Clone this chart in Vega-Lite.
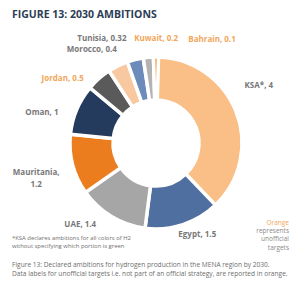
{
  "$schema": "https://vega.github.io/schema/vega-lite/v6.json",
  "background": "white",
  "padding": {"left": 12, "top": 9, "right": 0, "bottom": 0},
  "config": {
    "font": "Open Sans",
    "view": {"stroke": null},
    "concat": {"spacing": 0}
  },
  "title": {
    "text": [
      "Figure 13: Declared ambitions for hydrogen production in the MENA region by 2030.",
      "Data labels for unofficial targets i.e. not part of an official strategy, are reported in orange."
    ],
    "orient": "bottom",
    "anchor": "start",
    "fontSize": 6.6,
    "fontWeight": "normal",
    "color": "#6e6e6e",
    "lineHeight": 8.5,
    "offset": 7
  },
  "vconcat": [
    {
      "title": {
        "text": [
          "*KSA declares ambitions for all colors of H2",
          "without specifying which portion is green"
        ],
        "orient": "bottom",
        "anchor": "start",
        "fontSize": 5.9,
        "fontWeight": "normal",
        "color": "#6e6e6e",
        "lineHeight": 7.5,
        "offset": -20
      },
      "vconcat": [
        {
          "title": {
            "text": "FIGURE 13: 2030 AMBITIONS",
            "anchor": "start",
            "orient": "top",
            "fontSize": 10.5,
            "fontWeight": "bold",
            "color": "#2c3d55",
            "offset": 11
          },
          "vconcat": [
            {
              "width": 288,
              "height": 224,
              "title": {
                "text": "Orange",
                "subtitle": ["represents", "unofficial", "targets"],
                "orient": "bottom",
                "anchor": "end",
                "align": "right",
                "dx": -11,
                "offset": -35,
                "fontSize": 6.5,
                "fontWeight": "normal",
                "color": "#f2a65a",
                "subtitleFontSize": 6.5,
                "subtitleColor": "#8a8a8a",
                "subtitleLineHeight": 8.5,
                "subtitlePadding": 1
              },
              "data": {
                "values": [
                  {"country": "KSA", "label": "KSA*, 4", "value": 4},
                  {"country": "Egypt", "label": "Egypt, 1.5", "value": 1.5},
                  {"country": "UAE", "label": "UAE, 1.4", "value": 1.4},
                  {"country": "Mauritania", "label": "Mauritania,\n1.2", "value": 1.2},
                  {"country": "Oman", "label": "Oman, 1", "value": 1},
                  {"country": "Jordan", "label": "Jordan, 0.5", "value": 0.5},
                  {"country": "Morocco", "label": "Morocco, 0.4", "value": 0.4},
                  {"country": "Tunisia", "label": "Tunisia, 0.32", "value": 0.32},
                  {"country": "Kuwait", "label": "Kuwait, 0.2", "value": 0.2},
                  {"country": "Bahrain", "label": "Bahrain, 0.1", "value": 0.1}
                ]
              },
              "transform": [
                {"window": [{"op": "row_number", "as": "idx"}]},
                {"stack": "value", "groupby": [], "sort": [{"field": "idx", "order": "ascending"}], "as": ["v0", "v1"]},
                {"calculate": "(datum.v0 + datum.v1) / 2", "as": "mid"}
              ],
              "layer": [
                {
                  "mark": {"type": "arc", "innerRadius": 43, "outerRadius": 86, "stroke": "white", "strokeWidth": 3.5},
                  "encoding": {
                    "theta": {"field": "v0", "type": "quantitative"},
                    "theta2": {"field": "v1"},
                    "color": {
                      "field": "country",
                      "type": "nominal",
                      "legend": null,
                      "scale": {
                        "domain": ["KSA", "Egypt", "UAE", "Mauritania", "Oman", "Jordan", "Morocco", "Tunisia", "Kuwait", "Bahrain"],
                        "range": ["#f9bf86", "#4e6fa0", "#a6a6a6", "#ec7d1f", "#253b5e", "#5a5a5a", "#f8c9a0", "#6d8bba", "#b3b3b3", "#f0a04b"]
                      }
                    }
                  }
                },
                {
                  "transform": [{"filter": "datum.country === 'KSA'"}],
                  "mark": {"type": "text", "radius": 100, "dx": 10, "dy": -20, "fontSize": 8, "fontWeight": "bold", "color": "#787878", "lineBreak": "\n"},
                  "encoding": {"theta": {"field": "mid", "type": "quantitative"}, "text": {"field": "label"}}
                },
                {
                  "transform": [{"filter": "datum.country === 'Egypt'"}],
                  "mark": {"type": "text", "radius": 100, "dx": 10, "dy": -3, "fontSize": 8, "fontWeight": "bold", "color": "#787878", "lineBreak": "\n"},
                  "encoding": {"theta": {"field": "mid", "type": "quantitative"}, "text": {"field": "label"}}
                },
                {
                  "transform": [{"filter": "datum.country === 'UAE'"}],
                  "mark": {"type": "text", "radius": 100, "dx": -24, "dy": -4, "fontSize": 8, "fontWeight": "bold", "color": "#787878", "lineBreak": "\n"},
                  "encoding": {"theta": {"field": "mid", "type": "quantitative"}, "text": {"field": "label"}}
                },
                {
                  "transform": [{"filter": "datum.country === 'Mauritania'"}],
                  "mark": {"type": "text", "radius": 100, "dx": -23, "dy": 5, "fontSize": 8, "fontWeight": "bold", "color": "#787878", "lineBreak": "\n", "lineHeight": 12},
                  "encoding": {"theta": {"field": "mid", "type": "quantitative"}, "text": {"field": "label"}}
                },
                {
                  "transform": [{"filter": "datum.country === 'Oman'"}],
                  "mark": {"type": "text", "radius": 100, "dx": -22, "dy": 9, "fontSize": 8, "fontWeight": "bold", "color": "#787878", "lineBreak": "\n"},
                  "encoding": {"theta": {"field": "mid", "type": "quantitative"}, "text": {"field": "label"}}
                },
                {
                  "transform": [{"filter": "datum.country === 'Jordan'"}],
                  "mark": {"type": "text", "radius": 100, "dx": -27, "dy": 11, "fontSize": 8, "fontWeight": "bold", "color": "#f2a65a", "lineBreak": "\n"},
                  "encoding": {"theta": {"field": "mid", "type": "quantitative"}, "text": {"field": "label"}}
                },
                {
                  "transform": [{"filter": "datum.country === 'Morocco'"}],
                  "mark": {"type": "text", "radius": 100, "dx": -20, "dy": -3, "fontSize": 8, "fontWeight": "bold", "color": "#787878", "lineBreak": "\n"},
                  "encoding": {"theta": {"field": "mid", "type": "quantitative"}, "text": {"field": "label"}}
                },
                {
                  "transform": [{"filter": "datum.country === 'Tunisia'"}],
                  "mark": {"type": "text", "radius": 100, "dx": -30, "dy": -7, "fontSize": 8, "fontWeight": "bold", "color": "#787878", "lineBreak": "\n"},
                  "encoding": {"theta": {"field": "mid", "type": "quantitative"}, "text": {"field": "label"}}
                },
                {
                  "transform": [{"filter": "datum.country === 'Kuwait'"}],
                  "mark": {"type": "text", "radius": 100, "dx": 9, "dy": -4, "fontSize": 8, "fontWeight": "bold", "color": "#f2a65a", "lineBreak": "\n"},
                  "encoding": {"theta": {"field": "mid", "type": "quantitative"}, "text": {"field": "label"}}
                },
                {
                  "transform": [{"filter": "datum.country === 'Bahrain'"}],
                  "mark": {"type": "text", "radius": 100, "dx": 56, "dy": -3, "fontSize": 8, "fontWeight": "bold", "color": "#f2a65a", "lineBreak": "\n"},
                  "encoding": {"theta": {"field": "mid", "type": "quantitative"}, "text": {"field": "label"}}
                }
              ]
            }
          ]
        }
      ]
    }
  ]
}
